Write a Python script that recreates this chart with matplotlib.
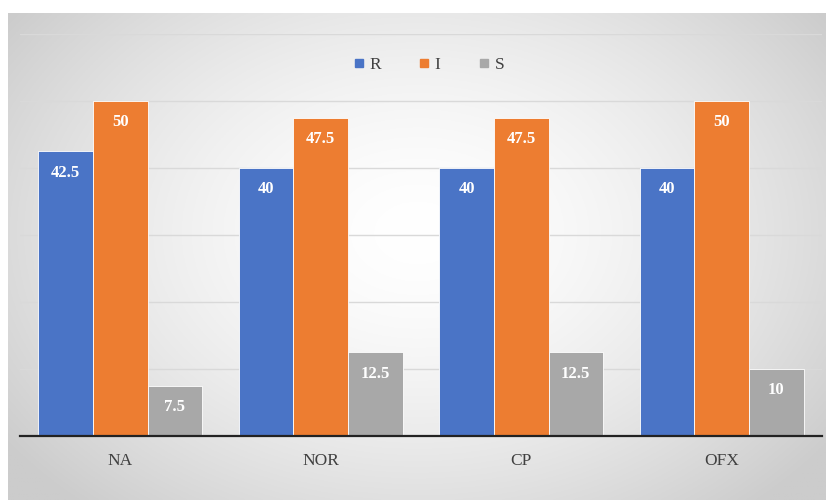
import numpy as np
import matplotlib
matplotlib.use("Agg")
import matplotlib.pyplot as plt
from matplotlib.lines import Line2D

categories = ["NA", "NOR", "CP", "OFX"]
series_names = ["R", "I", "S"]
R_vals = [42.5, 40, 40, 40]
I_vals = [50, 47.5, 47.5, 50]
S_vals = [7.5, 12.5, 12.5, 10]
labels_R = ["42.5", "40", "40", "40"]
labels_I = ["50", "47.5", "47.5", "50"]
labels_S = ["7.5", "12.5", "12.5", "10"]
colors = ["#4a74c6", "#ED7D31", "#A8A8A8"]

W, H = 826, 500
fig = plt.figure(figsize=(W / 100, H / 100), dpi=100)
fig.patch.set_facecolor("white")

# background panel with radial gradient
bg = fig.add_axes([8 / W, 0, 1 - 8 / W, (H - 13) / H], zorder=-10)
ny, nx = 300, 500
yy, xx = np.mgrid[0:ny, 0:nx]
cx, cy = nx * 0.5, ny * 0.45
d = np.sqrt(((xx - cx) / (nx * 0.62)) ** 2 + ((yy - cy) / (ny * 0.75)) ** 2)
d = np.clip(d, 0, 1)
val = 1.0 - 0.20 * d ** 1.6
img = np.dstack([val, val, val])
bg.imshow(img, aspect="auto", extent=[0, 1, 0, 1])
bg.set_axis_off()

ax = fig.add_axes([20 / W, (H - 436) / H, 802 / W, (436 - 34) / H])
ax.set_facecolor("none")

x = np.arange(len(categories))
w = 0.272
data = [R_vals, I_vals, S_vals]
labs = [labels_R, labels_I, labels_S]
for k in range(3):
    bars = ax.bar(x + (k - 1) * w, data[k], width=w, color=colors[k],
                  edgecolor="white", linewidth=0.6, zorder=3)
    for b, t in zip(bars, labs[k]):
        ax.text(b.get_x() + b.get_width() / 2, b.get_height() - 3.2, t,
                ha="center", va="center", color="white", fontweight="bold",
                fontsize=12, family="Liberation Serif", zorder=4)

ax.set_xlim(-0.5, len(categories) - 0.5)
ax.set_ylim(0, 60)
ax.set_yticks([10, 20, 30, 40, 50, 60])
ax.yaxis.grid(True, color="#d9d9d9", linewidth=1.0, zorder=0)
ax.tick_params(axis="y", left=False, labelleft=False)
ax.set_xticks(x)
ax.set_xticklabels(categories, family="Liberation Serif", fontsize=12.5, color="#404040")
ax.tick_params(axis="x", length=0, pad=12)
for s in ["top", "right", "left"]:
    ax.spines[s].set_visible(False)
ax.spines["bottom"].set_color("#222222")
ax.spines["bottom"].set_linewidth(1.6)
ax.spines["bottom"].set_zorder(5)

handles = [Line2D([], [], marker="s", linestyle="none", markersize=6,
                  markerfacecolor=c, markeredgecolor=c) for c in colors]
leg = fig.legend(handles, series_names, loc="center", bbox_to_anchor=(429 / W, 1 - 65 / H),
                 ncol=3, frameon=False, handlelength=0.6, handletextpad=0.3,
                 columnspacing=2.2,
                 prop={"family": "Liberation Serif", "size": 12.5})
for t in leg.get_texts():
    t.set_color("#404040")

fig.savefig("out.png", dpi=100)
